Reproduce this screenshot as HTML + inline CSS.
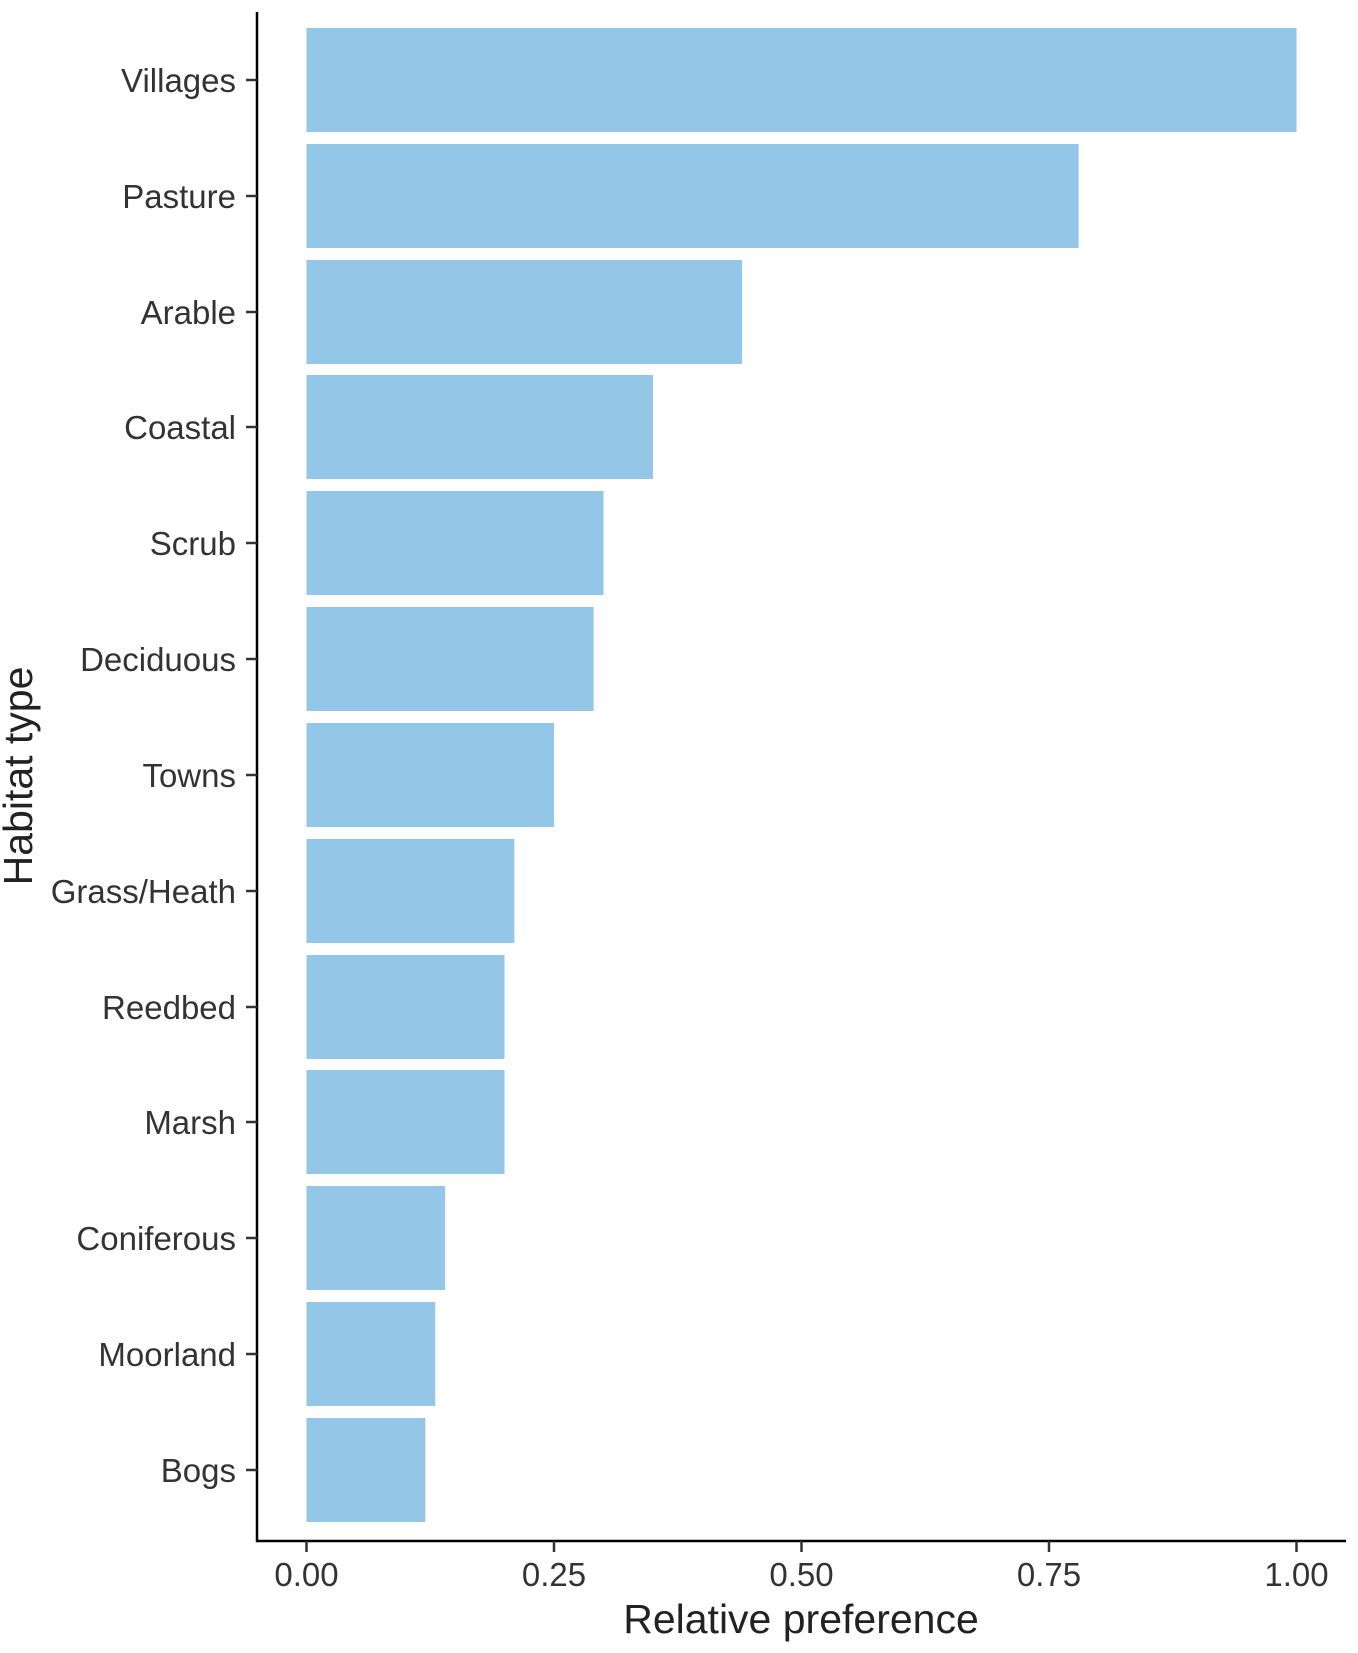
<!DOCTYPE html>
<html><head><meta charset="utf-8"><style>body{margin:0;background:#fff}svg{display:block}</style></head>
<body>
<svg width="1358" height="1653" xmlns="http://www.w3.org/2000/svg" font-family="Liberation Sans, sans-serif">
<g fill="#93c6e7">
<rect x="306.5" y="28" width="990" height="104"/>
<rect x="306.5" y="144" width="772.2" height="104"/>
<rect x="306.5" y="260" width="435.6" height="104"/>
<rect x="306.5" y="375" width="346.5" height="104"/>
<rect x="306.5" y="491" width="297" height="104"/>
<rect x="306.5" y="607" width="287.1" height="104"/>
<rect x="306.5" y="723" width="247.5" height="104"/>
<rect x="306.5" y="839" width="207.9" height="104"/>
<rect x="306.5" y="955" width="198" height="104"/>
<rect x="306.5" y="1070" width="198" height="104"/>
<rect x="306.5" y="1186" width="138.6" height="104"/>
<rect x="306.5" y="1302" width="128.7" height="104"/>
<rect x="306.5" y="1418" width="118.8" height="104"/>
</g>
<g stroke="#000" stroke-width="2.5" fill="none">
<path d="M257 12V1541H1346"/>
</g>
<g stroke="#333" stroke-width="2.5">
<path d="M246 80h11M246 196h11M246 312h11M246 427h11M246 543h11M246 659h11M246 775h11M246 891h11M246 1007h11M246 1122h11M246 1238h11M246 1354h11M246 1470h11"/>
<path d="M306.5 1541v11M554 1541v11M801.5 1541v11M1049 1541v11M1296.5 1541v11"/>
</g>
<g fill="#333" font-size="33" text-anchor="end">
<text x="236" y="92">Villages</text>
<text x="236" y="208">Pasture</text>
<text x="236" y="324">Arable</text>
<text x="236" y="439">Coastal</text>
<text x="236" y="555">Scrub</text>
<text x="236" y="671">Deciduous</text>
<text x="236" y="787">Towns</text>
<text x="236" y="903">Grass/Heath</text>
<text x="236" y="1019">Reedbed</text>
<text x="236" y="1134">Marsh</text>
<text x="236" y="1250">Coniferous</text>
<text x="236" y="1366">Moorland</text>
<text x="236" y="1482">Bogs</text>
</g>
<g fill="#333" font-size="33" text-anchor="middle">
<text x="306.5" y="1586">0.00</text>
<text x="554" y="1586">0.25</text>
<text x="801.5" y="1586">0.50</text>
<text x="1049" y="1586">0.75</text>
<text x="1296.5" y="1586">1.00</text>
</g>
<text x="801" y="1633" font-size="41" text-anchor="middle" fill="#222">Relative preference</text>
<text transform="translate(32,776) rotate(-90)" font-size="41" text-anchor="middle" fill="#222">Habitat type</text>
</svg>
</body></html>
